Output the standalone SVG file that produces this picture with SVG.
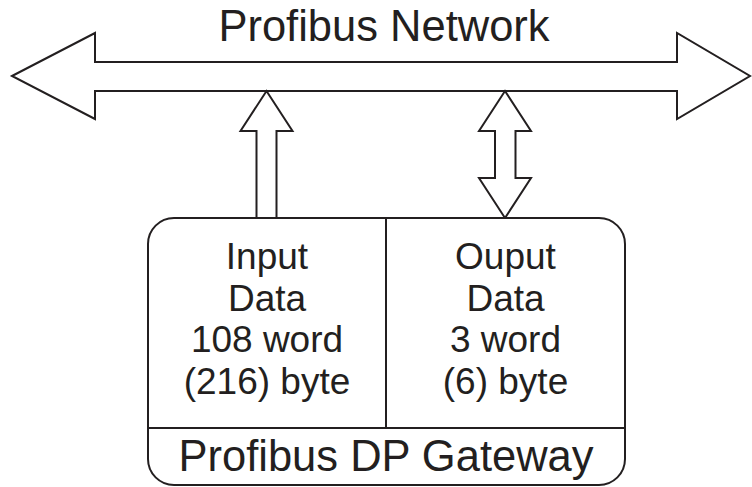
<svg xmlns="http://www.w3.org/2000/svg" width="752" height="487" viewBox="0 0 752 487">
<style>
.s{fill:#fff;stroke:#231f20;stroke-width:2;stroke-linejoin:miter}
.l{fill:none;stroke:#231f20;stroke-width:2}
.t{font-family:"Liberation Sans",Arial,sans-serif;fill:#231f20;text-anchor:middle}
.big{font-size:43.5px}
.mid{font-size:37px}
</style>
<rect width="752" height="487" fill="#fff"/>
<g id="network">
<path class="s" d="M12,76 L95,33 L95,62 L677,62 L677,33 L750,76 L677,119 L677,91 L95,91 L95,119 Z"/>
<text class="t big" x="384" y="41">Profibus Network</text>
</g>
<g id="connectors">
<path class="s" d="M266.5,91 L292.5,131 L276.5,131 L276.5,218 L256.5,218 L256.5,131 L240.5,131 Z"/>
<path class="s" d="M505,91 L531,131 L515.5,131 L515.5,178 L531,178 L505,218 L479,178 L495,178 L495,131 L479,131 Z"/>
</g>
<g id="gateway">
<rect class="s" x="148" y="218" width="477" height="267" rx="26" ry="26"/>
<line class="l" x1="386" y1="218" x2="386" y2="428"/>
<line class="l" x1="148" y1="428" x2="625" y2="428"/>
<text class="t big" x="386" y="471">Profibus DP Gateway</text>
</g>
<g id="input">
<text class="t mid" x="267" y="269">Input</text>
<text class="t mid" x="267" y="310.5">Data</text>
<text class="t mid" x="267" y="352">108 word</text>
<text class="t mid" x="267" y="393.5">(216) byte</text>
</g>
<g id="output">
<text class="t mid" x="505.5" y="269">Ouput</text>
<text class="t mid" x="505.5" y="310.5">Data</text>
<text class="t mid" x="505.5" y="352">3 word</text>
<text class="t mid" x="505.5" y="393.5">(6) byte</text>
</g>
</svg>
